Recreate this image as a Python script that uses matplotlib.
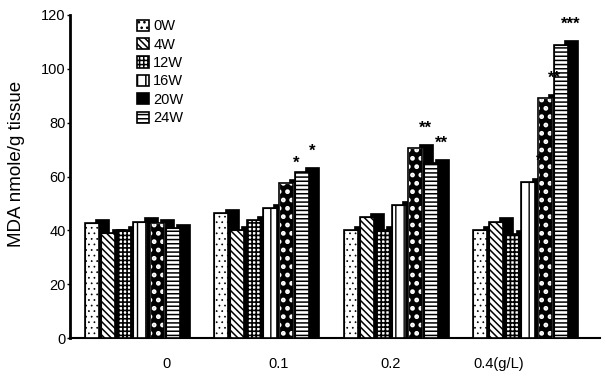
import numpy as np
import matplotlib
matplotlib.use('Agg')
import matplotlib.pyplot as plt
from matplotlib.patches import Patch

plt.rcParams['font.family'] = ['Liberation Sans', 'DejaVu Sans']
plt.rcParams['hatch.linewidth'] = 1.1

# data
groups = ['0', '0.1', '0.2', '0.4(g/L)']
series = ['0W', '4W', '12W', '16W', '20W', '24W']
v0w = [42.6, 46.4, 40.0, 40.0]
v4w = [39.0, 40.0, 45.0, 43.2]
v12w = [40.0, 43.9, 40.0, 38.5]
v16w = [43.2, 48.2, 49.4, 58.0]
v20w = [42.6, 57.6, 70.5, 89.0]
v24w = [40.9, 61.8, 65.0, 109.0]
values = [v0w, v4w, v12w, v16w, v20w, v24w]

# significance marks: (group index, series index, label)
stars = [(1, 4, '*'), (1, 5, '*'),
         (2, 4, '**'), (2, 5, '**'),
         (3, 3, '*'), (3, 4, '**'), (3, 5, '***')]

# bar looks (b/w patterns)
faces = ['white', 'white', 'white', 'white', 'black', 'white']
hatch_col = ['black', 'black', 'black', 'black', 'white', 'black']
hatches = ['...', '\\\\\\\\\\', '++++', '||', '..', '----']
hatch_lw = [0.5, 1.1, 1.2, 1.0, 2.2, 1.1]

fig = plt.figure(figsize=(6.06, 3.76), dpi=100)
ax = fig.add_axes([70 / 606, 38 / 376, 530 / 606, 323 / 376])

pitch = 0.125   # bar spacing inside a group
width = 0.108
dx, dy = 0.08, 1.6   # fake 3D depth

x0 = np.arange(len(groups))
z = 2
for i, s in enumerate(series):
    xs = x0 + i * pitch
    # dark side/top of the box
    ax.bar(xs + dx, np.array(values[i]) + dy, width=width, align='edge',
           color='black', edgecolor='black', linewidth=0.5, zorder=z)
    bars = ax.bar(xs, values[i], width=width, align='edge', color=faces[i],
                  edgecolor=hatch_col[i], hatch=hatches[i], linewidth=0.8, zorder=z + 1)
    if hasattr(bars[0], 'set_hatch_linewidth'):
        for b in bars:
            b.set_hatch_linewidth(hatch_lw[i])
    ax.bar(xs, values[i], width=width, align='edge', fill=False,
           edgecolor='black', linewidth=1.2, zorder=z + 1)
    z += 2

for g, si, lab in stars:
    ax.text(g + si * pitch + width / 2 + 0.08, values[si][g] + 7.5, lab,
            ha='center', va='center', fontsize=12, fontweight='bold', zorder=50)

ax.set_xlim(-0.116, -0.116 + 530 / 129.3)
ax.set_ylim(0, 120)
ax.set_yticks([0, 20, 40, 60, 80, 100, 120])
ax.set_xticks([0.634, 1.50, 2.367, 3.20])
ax.set_xticklabels(groups, fontsize=10.5)
ax.tick_params(axis='y', labelsize=10.5, length=2, width=1, pad=1)
ax.tick_params(axis='x', length=0, pad=14)
ax.spines['top'].set_visible(False)
ax.spines['right'].set_visible(False)
ax.spines['left'].set_linewidth(2)
ax.spines['bottom'].set_linewidth(1.5)
ax.set_ylabel('MDA nmole/g tissue', fontsize=13.5)
ax.yaxis.set_label_coords(-0.085, 0.54)

handles = [Patch(facecolor=faces[i], edgecolor=hatch_col[i], hatch=hatches[i])
           for i in range(len(series))]
leg = ax.legend(handles, series, loc='upper left', bbox_to_anchor=(130 / 606, 1 - 12 / 376),
                bbox_transform=fig.transFigure, frameon=False, fontsize=10.5,
                handlelength=0.8, handleheight=0.8, handletextpad=0.3,
                labelspacing=0.3, borderpad=0)
for p in leg.get_patches():
    p.set_linewidth(1.2)
    p.set_edgecolor('black')

fig.savefig('out.png', dpi=100)
